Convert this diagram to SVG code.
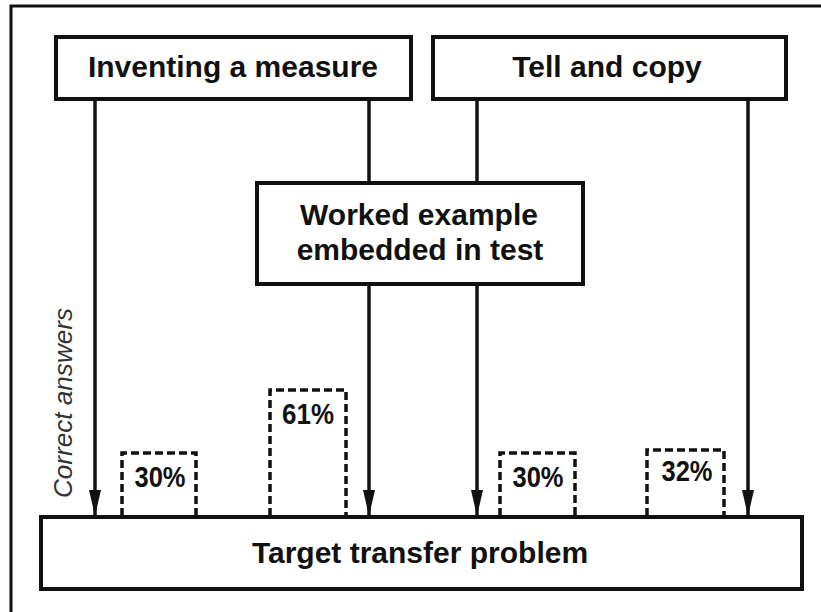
<svg xmlns="http://www.w3.org/2000/svg" width="821" height="612" viewBox="0 0 821 612">
<defs>
<style>
.box{fill:#fff;stroke:#111;stroke-width:4}
.lbl{font-family:"Liberation Sans",Arial,sans-serif;font-weight:bold;font-size:30px;fill:#111;text-anchor:middle}
.pct{font-family:"Liberation Sans",Arial,sans-serif;font-weight:bold;font-size:29px;fill:#111;text-anchor:middle}
.dash{fill:#fff;stroke:#111;stroke-width:3.5;stroke-dasharray:8 4}
.con{fill:none;stroke:#111;stroke-width:3.5}
.frame{fill:none;stroke:#111;stroke-width:3}
</style>
<marker id="arr" markerWidth="26" markerHeight="12" refX="26" refY="6" orient="auto" markerUnits="userSpaceOnUse" viewBox="0 0 26 12">
<path d="M0,0 L26,6 L0,12 Z" fill="#111"/>
</marker>
</defs>
<rect width="821" height="612" fill="#fff"/>
<path class="frame" d="M11,612 V6 H821"/>

<g id="connectors">
<line class="con" x1="95" y1="99" x2="95" y2="516" marker-end="url(#arr)"/>
<line class="con" x1="369" y1="99" x2="369" y2="183"/>
<line class="con" x1="369" y1="284" x2="369" y2="516" marker-end="url(#arr)"/>
<line class="con" x1="477" y1="99" x2="477" y2="183"/>
<line class="con" x1="477" y1="284" x2="477" y2="516" marker-end="url(#arr)"/>
<line class="con" x1="748" y1="99" x2="748" y2="516" marker-end="url(#arr)"/>
</g>

<g id="inventing">
<rect class="box" x="56" y="37" width="355" height="62"/>
<text class="lbl" x="233" y="77">Inventing a measure</text>
</g>
<g id="tell">
<rect class="box" x="433" y="37" width="353" height="62"/>
<text class="lbl" x="607" y="77">Tell and copy</text>
</g>
<g id="worked">
<rect class="box" x="257" y="183" width="326" height="101"/>
<text class="lbl" x="419" y="225">Worked example</text>
<text class="lbl" x="420" y="260">embedded in test</text>
</g>

<g id="pct1">
<path class="dash" d="M122,516 V453 H196 V516"/>
<text class="pct" x="160" y="487" textLength="51" lengthAdjust="spacingAndGlyphs">30%</text>
</g>
<g id="pct2">
<path class="dash" d="M270,516 V390 H346 V516"/>
<text class="pct" x="308" y="424" textLength="52" lengthAdjust="spacingAndGlyphs">61%</text>
</g>
<g id="pct3">
<path class="dash" d="M500,516 V453 H575 V516"/>
<text class="pct" x="538" y="487" textLength="51" lengthAdjust="spacingAndGlyphs">30%</text>
</g>
<g id="pct4">
<path class="dash" d="M647,516 V450 H724 V516"/>
<text class="pct" x="687" y="481" textLength="51" lengthAdjust="spacingAndGlyphs">32%</text>
</g>

<g id="target">
<rect class="box" x="41" y="517" width="761" height="72"/>
<text class="lbl" x="420" y="563">Target transfer problem</text>
</g>

<g id="axis-label">
<text x="0" y="0" transform="translate(72,403) rotate(-90)" font-family="'Liberation Sans',Arial,sans-serif" font-style="italic" font-size="26" fill="#333" text-anchor="middle" textLength="190" lengthAdjust="spacingAndGlyphs">Correct answers</text>
</g>
</svg>
